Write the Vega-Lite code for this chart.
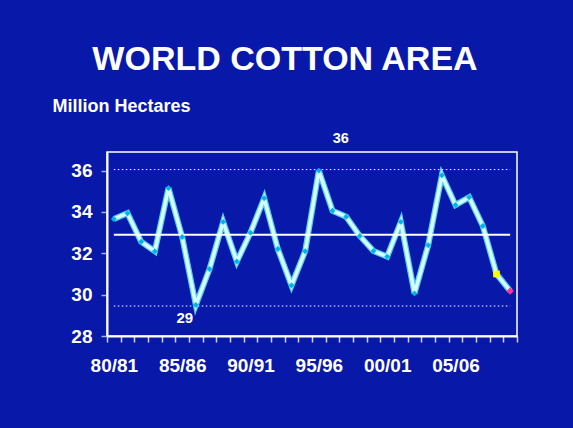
{
  "$schema": "https://vega.github.io/schema/vega-lite/v6.json",
  "width": 410,
  "height": 184,
  "autosize": {"type": "none"},
  "padding": {"left": 107, "top": 152, "right": 56, "bottom": 92},
  "background": "#0818A8",
  "title": {
    "text": "WORLD COTTON AREA",
    "anchor": "middle",
    "frame": "group",
    "dx": -27,
    "dy": 38,
    "offset": 31,
    "baseline": "alphabetic",
    "font": "Liberation Sans",
    "fontSize": 34,
    "fontWeight": "bold",
    "color": "white"
  },
  "config": {
    "view": {"stroke": "white", "strokeWidth": 1.5},
    "font": "Liberation Sans"
  },
  "data": {
    "values": [
      {"season": "80/81", "area": 33.66, "kind": "actual"},
      {"season": "81/82", "area": 33.94, "kind": "actual"},
      {"season": "82/83", "area": 32.56, "kind": "actual"},
      {"season": "83/84", "area": 32.1, "kind": "actual"},
      {"season": "84/85", "area": 35.16, "kind": "actual"},
      {"season": "85/86", "area": 32.79, "kind": "actual"},
      {"season": "86/87", "area": 29.5, "kind": "actual", "label": "29"},
      {"season": "87/88", "area": 31.24, "kind": "actual"},
      {"season": "88/89", "area": 33.52, "kind": "actual"},
      {"season": "89/90", "area": 31.6, "kind": "actual"},
      {"season": "90/91", "area": 33.0, "kind": "actual"},
      {"season": "91/92", "area": 34.66, "kind": "actual"},
      {"season": "92/93", "area": 32.21, "kind": "actual"},
      {"season": "93/94", "area": 30.45, "kind": "actual"},
      {"season": "94/95", "area": 32.1, "kind": "actual"},
      {"season": "95/96", "area": 36.0, "kind": "actual", "label": "36"},
      {"season": "96/97", "area": 34.06, "kind": "actual"},
      {"season": "97/98", "area": 33.77, "kind": "actual"},
      {"season": "98/99", "area": 32.84, "kind": "actual"},
      {"season": "99/00", "area": 32.11, "kind": "actual"},
      {"season": "00/01", "area": 31.84, "kind": "actual"},
      {"season": "01/02", "area": 33.52, "kind": "actual"},
      {"season": "02/03", "area": 30.06, "kind": "actual"},
      {"season": "03/04", "area": 32.39, "kind": "actual"},
      {"season": "04/05", "area": 35.77, "kind": "actual"},
      {"season": "05/06", "area": 34.34, "kind": "actual"},
      {"season": "06/07", "area": 34.71, "kind": "actual"},
      {"season": "07/08", "area": 33.32, "kind": "actual"},
      {"season": "08/09", "area": 31.0, "kind": "estimate"},
      {"season": "09/10", "area": 30.18, "kind": "projection"}
    ]
  },
  "encoding": {
    "x": {
      "field": "season",
      "type": "nominal",
      "sort": null,
      "scale": {"type": "band", "paddingInner": 0, "paddingOuter": 0},
      "axis": {
        "title": null,
        "labelAngle": 0,
        "labelOverlap": false,
        "labelExpr": "indexof(['80/81','85/86','90/91','95/96','00/01','05/06'], datum.value) >= 0 ? datum.value : ''",
        "labelFont": "Liberation Sans",
        "labelFontSize": 19,
        "labelFontWeight": "bold",
        "labelColor": "white",
        "labelBaseline": "alphabetic",
        "labelPadding": 29.5,
        "tickBand": "extent",
        "tickSize": 6,
        "tickColor": "#d0d4f0",
        "tickWidth": 1.5,
        "domainColor": "white",
        "domainWidth": 2
      }
    }
  },
  "layer": [
    {
      "mark": {"type": "line", "color": "#55cdf5", "strokeWidth": 6, "strokeJoin": "miter"},
      "encoding": {
        "y": {
          "field": "area",
          "type": "quantitative",
          "scale": {"domain": [28, 36.9], "nice": false, "zero": false},
          "axis": {
            "values": [28, 30, 32, 34, 36],
            "grid": false,
            "title": "Million Hectares",
            "titleAngle": 0,
            "titleAlign": "left",
            "titleBaseline": "alphabetic",
            "titleX": -55,
            "titleY": -41,
            "titleFont": "Liberation Sans",
            "titleFontSize": 18,
            "titleFontWeight": "bold",
            "titleColor": "white",
            "labelFont": "Liberation Sans",
            "labelFontSize": 19,
            "labelFontWeight": "bold",
            "labelColor": "white",
            "labelPadding": 9,
            "tickSize": 6,
            "tickColor": "#a8b0e0",
            "tickWidth": 1.5,
            "domainColor": "white",
            "domainWidth": 2
          }
        }
      }
    },
    {
      "mark": {"type": "line", "color": "#d8ffff", "strokeWidth": 3.5, "strokeJoin": "miter"},
      "encoding": {"y": {"field": "area", "type": "quantitative"}}
    },
    {
      "mark": {"type": "line", "color": "white", "strokeWidth": 2},
      "encoding": {"y": {"datum": 32.9}}
    },
    {
      "mark": {"type": "line", "color": "white", "strokeWidth": 1, "strokeDash": [1.5, 2.5]},
      "encoding": {"y": {"datum": 36.05}}
    },
    {
      "mark": {"type": "line", "color": "white", "strokeWidth": 1, "strokeDash": [1.5, 2.5]},
      "encoding": {"y": {"datum": 29.45}}
    },
    {
      "mark": {"type": "point", "filled": true, "opacity": 1},
      "encoding": {
        "y": {"field": "area", "type": "quantitative"},
        "color": {
          "field": "kind",
          "type": "nominal",
          "scale": {"domain": ["actual", "estimate", "projection"], "range": ["#00b4ea", "#ffff00", "#ff3399"]},
          "legend": null
        },
        "shape": {
          "field": "kind",
          "type": "nominal",
          "scale": {"domain": ["actual", "estimate", "projection"], "range": ["diamond", "square", "diamond"]},
          "legend": null
        },
        "size": {
          "field": "kind",
          "type": "nominal",
          "scale": {"domain": ["actual", "estimate", "projection"], "range": [35, 55, 60]},
          "legend": null
        }
      }
    },
    {
      "transform": [{"filter": "datum.label == '36'"}],
      "mark": {"type": "text", "color": "white", "fontWeight": "bold", "fontSize": 14.5, "baseline": "alphabetic", "dx": 22, "dy": -27.5},
      "encoding": {"y": {"field": "area", "type": "quantitative"}, "text": {"field": "label"}}
    },
    {
      "transform": [{"filter": "datum.label == '29'"}],
      "mark": {"type": "text", "color": "white", "fontWeight": "bold", "fontSize": 15, "baseline": "alphabetic", "dx": -11, "dy": 18},
      "encoding": {"y": {"field": "area", "type": "quantitative"}, "text": {"field": "label"}}
    }
  ]
}
